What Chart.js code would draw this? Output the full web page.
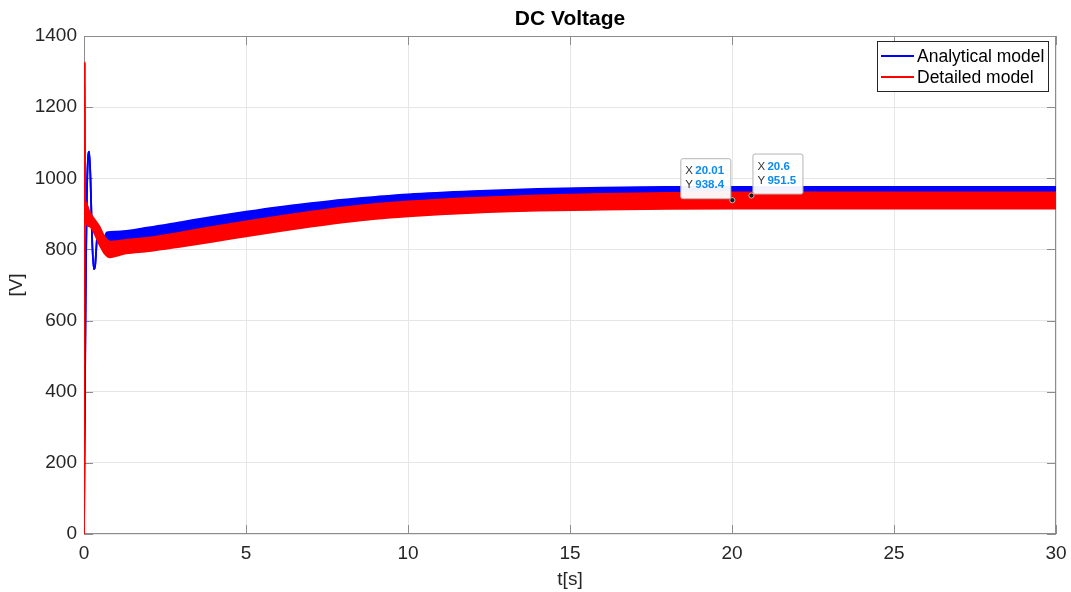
<!DOCTYPE html>
<html>
<head>
<meta charset="utf-8">
<script src="https://cdn.jsdelivr.net/npm/chart.js@4.4.1/dist/chart.umd.min.js"></script>
<style>
  html, body { margin: 0; padding: 0; background: #fff; }
  #wrap { width: 1071px; height: 592px; }
</style>
</head>
<body>
<div id="wrap"><canvas id="dcChart"></canvas></div>
<script>
// Analytical model: start-up swing, then ripple envelope (top / bottom)
const blueStartT = [0, 0.03, 0.06, 0.09, 0.12, 0.16, 0.2, 0.25, 0.3, 0.34, 0.4, 0.46, 0.52, 0.58, 0.64];
const blueStartV = [0, 420, 760, 960, 1050, 1075, 1000, 830, 745, 752, 830, 865, 850, 825, 835];
const blueT = [0.7, 1, 2, 3, 4, 5, 6, 7, 8, 9, 10, 12, 14, 16, 18, 20, 25, 30];
const blueHigh = [848, 850, 862, 877, 892, 906, 919, 930, 940, 948, 955, 964, 970, 974, 976, 976, 976, 976];
const blueLow = [808, 804, 816, 831, 846, 860, 873, 884, 894, 902, 909, 918, 924, 928, 930, 930, 930, 930];

// Detailed model
const redStartT = [0, 0.02, 0.035];
const redStartV = [0, 1325, 935];
const redT = [0.04, 0.17, 0.48, 0.63, 0.8, 1.0, 1.3, 2, 3, 4, 5, 6, 7, 8, 9, 10, 12, 14, 16, 18, 20, 25, 30];
const redHigh = [935, 906, 864, 836, 822, 823, 827, 833, 848, 864, 879, 893, 906, 918, 928, 935, 945, 952, 956, 959, 960, 960, 960];
const redLow = [885, 865, 813, 789, 778, 782, 789, 795, 808, 822, 837, 851, 864, 876, 886, 893, 903, 909, 912, 914, 915, 915, 915];

// data tips
const tipT = [20.01, 20.6];
const tipV = [938.4, 951.5];

const xTicks = [0, 5, 10, 15, 20, 25, 30];
const yTicks = [0, 200, 400, 600, 800, 1000, 1200, 1400];

function pts(t0, v0, t1, v1) {
    const out = t0.map((t, i) => ({ x: t, y: v0[i] }));
    return out.concat(t1.map((t, i) => ({ x: t, y: v1[i] })));
}

const FONT = 'Liberation Sans, Arial, Helvetica, sans-serif';
const TXT = '#262626';
const AXIS = '#8c8c8c';

const framePlugin = {
    id: 'frame',
    beforeDatasetsDraw(chart) {
        const { ctx, chartArea: a, scales } = chart;
        ctx.save();
        ctx.strokeStyle = AXIS;
        ctx.lineWidth = 1;
        ctx.strokeRect(a.left + 0.5, a.top + 0.5, a.right - a.left - 1, a.bottom - a.top - 1);
        // inward tick marks on all four sides
        ctx.beginPath();
        xTicks.forEach(v => {
            const x = Math.round(scales.x.getPixelForValue(v)) + 0.5;
            ctx.moveTo(x, a.bottom); ctx.lineTo(x, a.bottom - 9);
            ctx.moveTo(x, a.top); ctx.lineTo(x, a.top + 9);
        });
        yTicks.forEach(v => {
            const y = Math.round(scales.y.getPixelForValue(v)) + 0.5;
            ctx.moveTo(a.left, y); ctx.lineTo(a.left + 9, y);
            ctx.moveTo(a.right, y); ctx.lineTo(a.right - 9, y);
        });
        ctx.stroke();
        ctx.restore();
    },
    afterDraw(chart) {
        const { ctx, chartArea: a, scales } = chart;
        ctx.save();

        // title
        ctx.fillStyle = '#000';
        ctx.font = 'bold 21px ' + FONT;
        ctx.textAlign = 'center';
        ctx.textBaseline = 'middle';
        ctx.fillText('DC Voltage', (a.left + a.right) / 2, 19);

        // legend box
        const lw = 171, lh = 50;
        const lx = a.right - 8 - lw, ly = a.top + 5;
        ctx.fillStyle = '#fff';
        ctx.fillRect(lx, ly, lw, lh);
        ctx.strokeStyle = '#262626';
        ctx.lineWidth = 1;
        ctx.strokeRect(lx + 0.5, ly + 0.5, lw, lh);
        const entries = [chart.data.datasets[0], chart.data.datasets[2]];
        ctx.font = '17.5px ' + FONT;
        ctx.textAlign = 'left';
        entries.forEach((ds, i) => {
            const y = ly + 15 + i * 21;
            ctx.strokeStyle = ds.borderColor;
            ctx.lineWidth = 2;
            ctx.beginPath();
            ctx.moveTo(lx + 4, y); ctx.lineTo(lx + 37, y);
            ctx.stroke();
            ctx.fillStyle = '#000';
            ctx.fillText(ds.label, lx + 40, y + 1);
        });

        // data tips
        tipT.forEach((t, i) => {
            const px = scales.x.getPixelForValue(t);
            const py = scales.y.getPixelForValue(tipV[i]);
            const w = 50, h = 40;
            const bx = i === 0 ? px - w - 2 : px + 1;
            const by = py - h - 2;
            ctx.fillStyle = 'rgba(255,255,255,0.95)';
            ctx.strokeStyle = '#b4b4b4';
            ctx.lineWidth = 1;
            ctx.beginPath();
            ctx.roundRect(bx + 0.5, by + 0.5, w, h, 2);
            ctx.fill();
            ctx.stroke();
            ctx.textBaseline = 'middle';
            const rows = [['X', t.toString()], ['Y', tipV[i].toFixed(1)]];
            rows.forEach((r, k) => {
                const ty = by + 13 + k * 14;
                ctx.font = '11.5px ' + FONT;
                ctx.fillStyle = '#333';
                ctx.fillText(r[0], bx + 5, ty);
                ctx.font = 'bold 11.5px ' + FONT;
                ctx.fillStyle = '#0a8cf0';
                ctx.fillText(r[1], bx + 15, ty);
            });
            ctx.beginPath();
            ctx.arc(px, py, 2.6, 0, Math.PI * 2);
            ctx.fillStyle = '#1a1a1a';
            ctx.fill();
            ctx.strokeStyle = '#ddd';
            ctx.lineWidth = 0.8;
            ctx.stroke();
        });
        ctx.restore();
    }
};

const blue = '#0000ff';
const red = '#ff0000';

new Chart(document.getElementById('dcChart'), {
    type: 'line',
    data: {
        datasets: [
            { label: 'Analytical model', data: pts(blueStartT, blueStartV, blueT, blueHigh),
              borderColor: blue, borderWidth: 1.8, fill: false, order: 2 },
            { label: 'Analytical model (low)', data: pts(blueStartT, blueStartV, blueT, blueLow),
              borderColor: blue, borderWidth: 1.8, backgroundColor: blue, fill: '-1', order: 2 },
            { label: 'Detailed model', data: pts(redStartT, redStartV, redT, redHigh),
              borderColor: red, borderWidth: 1.8, fill: false, order: 1 },
            { label: 'Detailed model (low)', data: pts(redStartT, redStartV, redT, redLow),
              borderColor: red, borderWidth: 1.8, backgroundColor: red, fill: '-1', order: 1 }
        ]
    },
    options: {
        responsive: true,
        maintainAspectRatio: false,
        animation: false,
        parsing: false,
        layout: { padding: { top: 36, right: 15, left: 0, bottom: 0 } },
        elements: { point: { radius: 0 }, line: { cubicInterpolationMode: 'monotone' } },
        plugins: { legend: { display: false }, tooltip: { enabled: false }, title: { display: false } },
        scales: {
            x: {
                type: 'linear', min: 0, max: 30,
                afterBuildTicks(s) { s.ticks = xTicks.map(v => ({ value: v })); },
                ticks: { color: TXT, font: { family: FONT, size: 19 }, padding: 8, maxRotation: 0,
                         callback: v => String(v) },
                grid: { color: '#e6e6e6', drawTicks: false },
                border: { display: false },
                title: { display: true, text: 't[s]', color: TXT, font: { family: FONT, size: 19 }, padding: { top: 0, bottom: 1 } },
                afterFit(s) {
                    s.height = 58;
                    // keep the "30" label from pulling the plot edge inward
                    s.paddingRight = 0;
                    s.paddingLeft = 0;
                }
            },
            y: {
                type: 'linear', min: 0, max: 1400,
                afterBuildTicks(s) { s.ticks = yTicks.map(v => ({ value: v })); },
                ticks: { color: TXT, font: { family: FONT, size: 19 }, padding: 7,
                         callback: v => String(v) },
                grid: { color: '#e6e6e6', drawTicks: false },
                border: { display: false },
                title: { display: true, text: '[V]', color: TXT, font: { family: FONT, size: 19 }, padding: { top: 5, bottom: 0 } },
                afterFit(s) { s.width = 84; }
            }
        }
    },
    plugins: [framePlugin]
});
</script>
</body>
</html>
